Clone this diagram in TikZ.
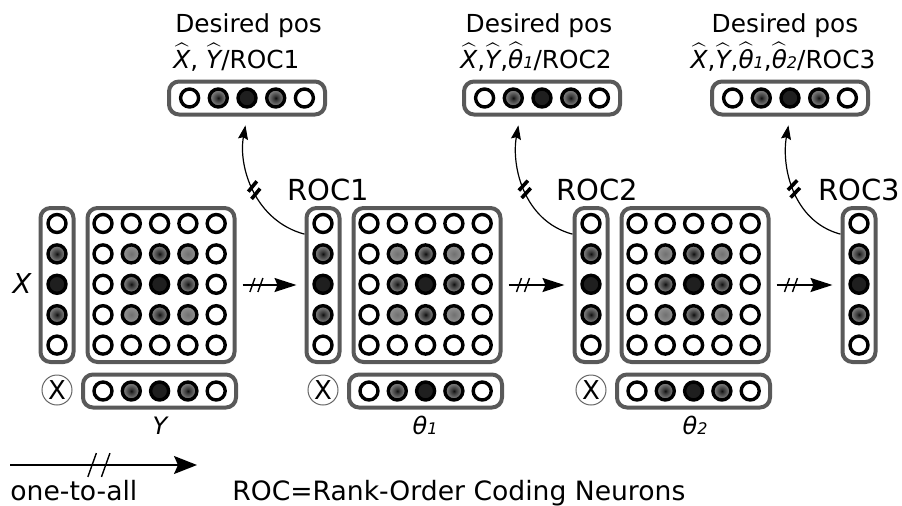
\documentclass[tikz,border=0pt]{standalone}
\usepackage{amsmath}
\usepackage{fontspec}
\setmainfont{DejaVu Sans}
\usepackage{tikz}
\usetikzlibrary{arrows.meta, decorations.markings}

\pgfdeclareradialshading{middot}{\pgfpointorigin}{color(0bp)=(black!95); color(6bp)=(black!78); color(20bp)=(black!52); color(40bp)=(black!40); color(50bp)=(black!36)}
\pgfdeclareradialshading{weakdot}{\pgfpointorigin}{color(0bp)=(black!56); color(20bp)=(black!44); color(50bp)=(black!34)}

\newcommand{\hatvar}[1]{$\widehat{\text{\itshape #1}}$}
\newcommand{\subidx}[1]{{\itshape\fontsize{8}{8}\selectfont #1}}

\tikzstyle{cell} = [circle, draw=black, line width=1.7pt, minimum size=9pt, inner sep=0pt]
\tikzstyle{offcell} = [cell, fill=white]
\tikzstyle{peakcell} = [cell, fill=black!88]
\tikzstyle{midcell} = [cell, shade, shading=middot]
\tikzstyle{weakcell} = [cell, shade, shading=weakdot]
\tikzstyle{layer} = [draw=black!65, line width=2pt, rounded corners=5pt, fill=white, inner sep=0pt]
\tikzstyle{column} = [layer, minimum width=16.5pt, minimum height=77pt]
\tikzstyle{gridbox} = [layer, minimum width=73.5pt, minimum height=77pt]
\tikzstyle{rowbox} = [layer, minimum width=76.5pt, minimum height=16.5pt]
\tikzstyle{outbox} = [layer, minimum width=78pt, minimum height=16.5pt]
\tikzstyle{cross} = [circle, draw=black!60, line width=0.5pt, minimum size=15pt, inner sep=0pt, font=\fontsize{13}{13}\selectfont]
\tikzstyle{caption} = [inner sep=0pt, font=\fontsize{12.4}{14}\selectfont]
\tikzstyle{varlabel} = [inner sep=0pt, font=\fontsize{12}{14}\itshape]
\tikzstyle{roclabel} = [inner sep=0pt, font=\fontsize{14.5}{16}\selectfont]
\tikzstyle{legendtext} = [inner sep=0pt, font=\fontsize{13.3}{15}\selectfont]
\tikzstyle{arrow} = [line width=0.8pt, -{Stealth[length=11pt,width=7pt,inset=1.5pt]}]
\tikzstyle{feedback} = [line width=0.6pt, -{Stealth[length=7pt,width=5pt,inset=1pt]}]

\tikzset{
  slashes/.style 2 args={postaction={decorate}, decoration={markings, mark=at position #1 with {\draw[arrows=-, shorten <=0pt, shorten >=0pt, line width=0.7pt, scale=#2] (-3.5pt,-3.5pt) -- (-1pt,3.5pt) (0.5pt,-3.5pt) -- (3pt,3.5pt);}}},
  barmarks/.style={postaction={decorate}, decoration={markings, mark=at position #1 with {\draw[arrows=-, shorten <=0pt, shorten >=0pt, line width=1.8pt] (-3.5pt,3pt) -- (-0.5pt,-3pt) (0.5pt,3pt) -- (3.5pt,-3pt);}}}
}

\begin{document}
\begin{tikzpicture}[x=0.5pt, y=-0.5pt]
\useasboundingbox (0,0) rectangle (902,505);

% input layer and the two ROC stages
\foreach \p/\cx in {1/57, 2/323, 3/591} {
  \node (col\p) [column] at (\cx,285) {};
  \foreach \st [count=\r] in {offcell,midcell,peakcell,midcell,offcell}
    \node (col\p-\r) [\st] at (\cx,{223.5+30.4*(\r-1)}) {};
  \node (grid\p) [gridbox] at (\cx+104,285) {};
  \foreach \row [count=\r] in {{offcell,offcell,offcell,offcell,offcell},
                               {offcell,weakcell,midcell,weakcell,offcell},
                               {offcell,midcell,peakcell,midcell,offcell},
                               {offcell,weakcell,midcell,weakcell,offcell},
                               {offcell,offcell,offcell,offcell,offcell}}
    \foreach \st [count=\c] in \row
      \node (grid\p-\r-\c) [\st] at ({\cx+46+28.3*(\c-1)},{223.5+30.4*(\r-1)}) {};
  \node (mul\p) [cross] at (\cx,390) {X};
  \node (vec\p) [rowbox] at (\cx+102.5,391) {};
  \foreach \st [count=\c] in {offcell,midcell,peakcell,midcell,offcell}
    \node (vec\p-\c) [\st] at ({\cx+46+28.3*(\c-1)},391) {};
}

% last ROC column
\node (col4) [column] at (859,285) {};
\foreach \st [count=\r] in {offcell,midcell,peakcell,midcell,offcell}
  \node (col4-\r) [\st] at (859,{223.5+30.4*(\r-1)}) {};

% desired position outputs
\foreach \t/\tx in {1/247, 2/542, 3/790} {
  \node (top\t) [outbox] at (\tx,98) {};
  \foreach \st [count=\c] in {offcell,midcell,peakcell,midcell,offcell}
    \node (top\t-\c) [\st] at ({\tx+28.7*(\c-3)},98) {};
}

\node (xlab) [varlabel, font=\fontsize{13.7}{15}\itshape, anchor=base] at (22,293) {X};
\node (ylab) [varlabel, anchor=base] at (160,434) {Y};
\node (th1lab) [varlabel, anchor=base] at (425,434) {θ\subidx{1}};
\node (th2lab) [varlabel, anchor=base] at (695,434) {θ\subidx{2}};

\node (roc1) [roclabel, anchor=base] at (328,200) {ROC1};
\node (roc2) [roclabel, anchor=base] at (597,200) {ROC2};
\node (roc3) [roclabel, anchor=base] at (859,200) {ROC3};

\node (des1) [caption, anchor=base west] at (175,32) {Desired pos};
\node (goal1) [caption, anchor=base west] at (173,68) {\hatvar{X}, \hatvar{Y}/ROC1};
\node (des2) [caption, anchor=base] at (539,32) {Desired pos};
\node (goal2) [caption, anchor=base] at (536,68) {\hatvar{X},\hatvar{Y},\hatvar{θ}\subidx{1}/ROC2};
\node (des3) [caption, anchor=base] at (785,32) {Desired pos};
\node (goal3) [caption, anchor=base] at (783,68) {\hatvar{X},\hatvar{Y},\hatvar{θ}\subidx{1},\hatvar{θ}\subidx{2}/ROC3};

% one-to-all links
\draw [arrow, slashes={0.3}{1}, shorten <=3pt, shorten >=4pt] (grid1.east) -- (col2.west);
\draw [arrow, slashes={0.3}{1}, shorten <=3pt, shorten >=4pt] (grid2.east) -- (col3.west);
\draw [arrow, slashes={0.3}{1}, shorten <=3pt, shorten >=4pt] (grid3.east) -- (col4.west);

\draw [feedback, barmarks=0.48, shorten >=4.5pt] (col2.110) to[out=165, in=-100] (top1.south);
\draw [feedback, barmarks=0.48, shorten >=4.5pt] (col3.110) to[out=165, in=-100] (top2.-140);
\draw [feedback, barmarks=0.48, shorten >=4.5pt] (col4.110) to[out=165, in=-100] (top3.south);

% legend
\coordinate (legstart) at (10,465);
\coordinate (legtip) at (197,465);
\draw [line width=0.8pt, -{Stealth[length=11.5pt,width=9pt,inset=2pt]}, slashes={0.48}{1.7}] (legstart) -- (legtip);
\node (onetoall) [legendtext, anchor=base west] at (10,500) {one-to-all};
\node (rocnote) [legendtext, anchor=base west] at (232,500) {ROC=Rank-Order Coding Neurons};
\end{tikzpicture}
\end{document}
